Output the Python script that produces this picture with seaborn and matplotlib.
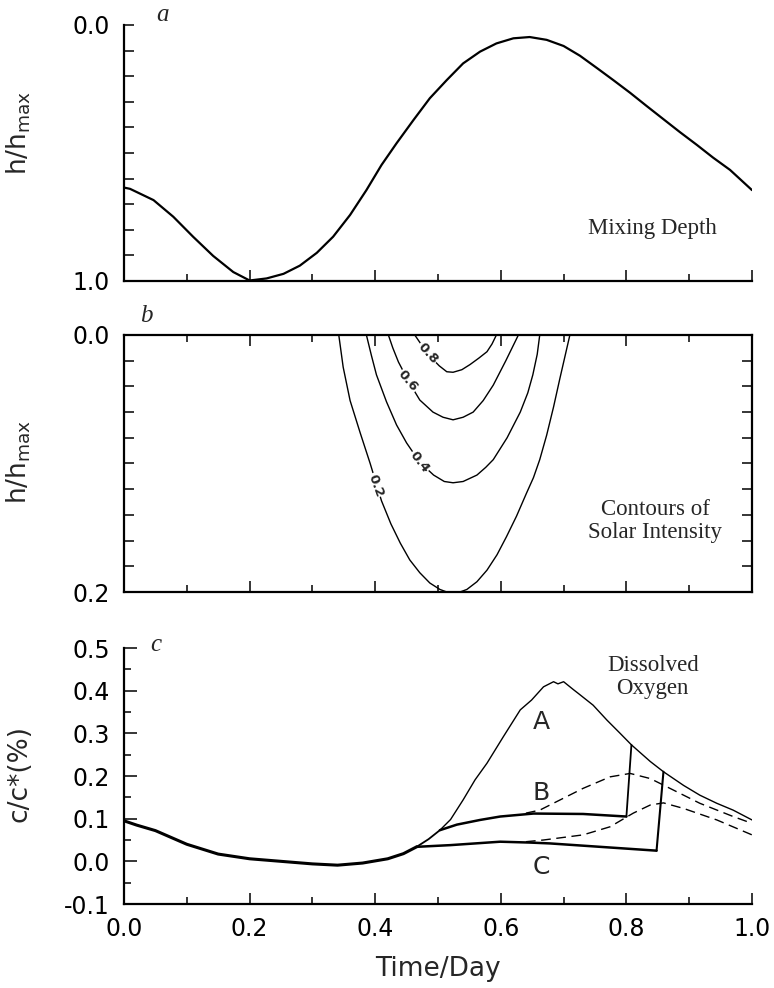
import numpy as np
import pandas as pd
import matplotlib
matplotlib.use("Agg")
import matplotlib.pyplot as plt
from matplotlib.ticker import MultipleLocator, FixedLocator
import seaborn as sns

# ---------------- data ----------------
# Panel a: mixing depth (h/hmax) vs time
mix_t = [0.0, 0.0096, 0.047, 0.0785, 0.110, 0.142, 0.174, 0.2, 0.227, 0.254, 0.280,
         0.307, 0.333, 0.36, 0.386, 0.410, 0.434, 0.461, 0.487, 0.514, 0.540, 0.567,
         0.593, 0.62, 0.646, 0.673, 0.70, 0.726, 0.753, 0.779, 0.806, 0.832, 0.859,
         0.885, 0.912, 0.938, 0.965, 1.0]
mix_h = [0.635, 0.64, 0.684, 0.749, 0.827, 0.902, 0.965, 0.998, 0.99, 0.972, 0.94,
         0.89, 0.827, 0.742, 0.645, 0.547, 0.462, 0.371, 0.286, 0.215, 0.15, 0.104,
         0.072, 0.052, 0.047, 0.058, 0.082, 0.12, 0.168, 0.215, 0.265, 0.316, 0.368,
         0.418, 0.468, 0.518, 0.566, 0.645]

# Panel b: contour lines of solar intensity (time, depth)
c02_t = [0.342, 0.349, 0.36, 0.376, 0.392, 0.41, 0.425, 0.44, 0.455, 0.471, 0.487, 0.503,
         0.514, 0.524, 0.535, 0.546, 0.562, 0.578, 0.594, 0.609, 0.625, 0.641, 0.652,
         0.662, 0.673, 0.684, 0.694, 0.71]
c02_d = [0.0, 0.025, 0.051, 0.076, 0.10, 0.129, 0.147, 0.162, 0.175, 0.185, 0.193, 0.198,
         0.2, 0.2, 0.2, 0.198, 0.192, 0.183, 0.171, 0.157, 0.141, 0.123, 0.111,
         0.097, 0.078, 0.056, 0.034, 0.0]
c04_t = [0.386, 0.394, 0.402, 0.418, 0.434, 0.45, 0.471, 0.493, 0.51, 0.524, 0.54, 0.562,
         0.576, 0.588, 0.61, 0.631, 0.643, 0.651, 0.658, 0.662]
c04_d = [0.0, 0.016, 0.031, 0.052, 0.070, 0.084, 0.099, 0.109, 0.114, 0.115, 0.114, 0.109,
         0.103, 0.097, 0.08, 0.06, 0.045, 0.031, 0.015, 0.0]
c06_t = [0.421, 0.428, 0.437, 0.453, 0.471, 0.492, 0.508, 0.524, 0.54, 0.556, 0.572, 0.588,
         0.608, 0.628]
c06_d = [0.0, 0.01, 0.021, 0.036, 0.0506, 0.06, 0.064, 0.066, 0.064, 0.06, 0.051, 0.039,
         0.02, 0.0]
c08_t = [0.463, 0.477, 0.49, 0.502, 0.514, 0.524, 0.538, 0.551, 0.565, 0.578, 0.586, 0.593]
c08_d = [0.0, 0.01, 0.018, 0.024, 0.0286, 0.029, 0.027, 0.023, 0.018, 0.013, 0.007, 0.0]
contour_levels = ["0.2", "0.4", "0.6", "0.8"]
label_t = [0.40, 0.471, 0.452, 0.484]
label_d = [0.117, 0.0986, 0.036, 0.014]
label_rot = [-70, -52, -50, -48]

# Panel c: dissolved oxygen
common_t = [0.0, 0.02, 0.05, 0.1, 0.15, 0.2, 0.25, 0.3, 0.34, 0.38, 0.42, 0.445, 0.466]
common_c = [0.095, 0.085, 0.072, 0.04, 0.017, 0.006, 0.0, -0.006, -0.009, -0.004, 0.006, 0.018, 0.034]
ab_t = [0.466, 0.485, 0.503]
ab_c = [0.034, 0.052, 0.073]
a_t = [0.503, 0.52, 0.54, 0.559, 0.578, 0.604, 0.631, 0.649, 0.668, 0.684, 0.691, 0.70,
       0.716, 0.723, 0.747, 0.769, 0.79, 0.808, 0.838, 0.859, 0.891, 0.917, 0.944, 0.97, 1.0]
a_c = [0.073, 0.098, 0.144, 0.191, 0.23, 0.292, 0.355, 0.378, 0.409, 0.421, 0.416, 0.421,
       0.402, 0.394, 0.366, 0.331, 0.30, 0.273, 0.234, 0.21, 0.178, 0.155, 0.136, 0.12, 0.097]
b_t = [0.503, 0.53, 0.567, 0.599, 0.652, 0.731, 0.80]
b_c = [0.073, 0.086, 0.097, 0.105, 0.112, 0.111, 0.105]
b_jump_t = [0.80, 0.808]
b_jump_c = [0.105, 0.273]
c_t = [0.466, 0.52, 0.599, 0.646, 0.678, 0.758, 0.848]
c_c = [0.034, 0.038, 0.046, 0.044, 0.042, 0.034, 0.025]
c_jump_t = [0.848, 0.859]
c_jump_c = [0.025, 0.21]
bd_t = [0.64, 0.662, 0.731, 0.774, 0.806, 0.838, 0.864, 0.917, 0.97, 1.0]
bd_c = [0.113, 0.12, 0.171, 0.198, 0.206, 0.194, 0.175, 0.136, 0.105, 0.089]
cd_t = [0.64, 0.668, 0.731, 0.774, 0.811, 0.838, 0.859, 0.891, 0.944, 1.0]
cd_c = [0.046, 0.05, 0.062, 0.081, 0.113, 0.132, 0.137, 0.124, 0.097, 0.062]
case_labels = ["A", "B", "C"]
case_t = [0.665, 0.665, 0.665]
case_c = [0.327, 0.159, -0.0125]

# ---------------- style ----------------
sns.set_style("white")
plt.rcParams["font.family"] = ["DejaVu Sans"]
plt.rcParams["mathtext.default"] = "regular"
SERIF = ["Liberation Serif", "DejaVu Serif"]
TICKFS = 17
LABFS = 19

fig = plt.figure(figsize=(7.74, 9.88), dpi=100)
L, W = 124 / 774, 628 / 774
ax_a = fig.add_axes([L, 1 - 281 / 988, W, 256 / 988])
ax_b = fig.add_axes([L, 1 - 592 / 988, W, 257 / 988])
ax_c = fig.add_axes([L, 1 - 904 / 988, W, 256 / 988])

def line(ax, t, v, lw=1.5, dashes=None):
    df = pd.DataFrame({"t": t, "v": v})
    sns.lineplot(data=df, x="t", y="v", ax=ax, color="black", linewidth=lw,
                 sort=False, estimator=None)
    ln = ax.get_lines()[-1]
    if dashes is not None:
        ln.set_dashes(dashes)
    return ln

def style_axes(ax, box=False):
    for s in ["left", "bottom", "top", "right"]:
        ax.spines[s].set_linewidth(1.6)
        ax.spines[s].set_color("black")
    for s in ["top", "right"]:
        ax.spines[s].set_visible(box)
    ax.set_xlim(0, 1)
    ax.xaxis.set_major_locator(MultipleLocator(0.2))
    ax.xaxis.set_minor_locator(MultipleLocator(0.1))
    ax.tick_params(axis="both", which="both", direction="in", colors="black",
                   width=1.1, labelsize=TICKFS, pad=10, left=True, bottom=True)
    ax.tick_params(axis="x", which="major", length=8)
    ax.tick_params(axis="x", which="minor", length=5)
    ax.set_xlabel("")
    ax.set_ylabel("")

# ---------------- panel a ----------------
line(ax_a, mix_t, mix_h, lw=1.6)
style_axes(ax_a)
ax_a.set_ylim(1.0, 0.0)
ax_a.yaxis.set_major_locator(FixedLocator([0.0, 1.0]))
ax_a.set_yticklabels(["0.0", "1.0"])
ax_a.yaxis.set_minor_locator(FixedLocator(np.arange(1, 10) / 10))
ax_a.tick_params(axis="y", which="both", length=7)
ax_a.tick_params(axis="x", labelbottom=False)
ax_a.set_ylabel(r"h/h$_{max}$", fontsize=LABFS)
ax_a.yaxis.set_label_coords(-0.145, 0.58)
ax_a.text(0.062, 1.04, "a", transform=ax_a.transAxes, fontsize=18,
          family=SERIF, style="italic", ha="center", va="center")
ax_a.text(0.841, 0.207, "Mixing Depth", transform=ax_a.transAxes, fontsize=16.5,
          family=SERIF, ha="center", va="center")

# ---------------- panel b ----------------
for t, d in [(c02_t, c02_d), (c04_t, c04_d), (c06_t, c06_d), (c08_t, c08_d)]:
    line(ax_b, t, d, lw=1.0)
style_axes(ax_b, box=True)
ax_b.set_ylim(0.2, 0.0)
ax_b.yaxis.set_major_locator(FixedLocator([0.0, 0.2]))
ax_b.set_yticklabels(["0.0", "0.2"])
ax_b.yaxis.set_minor_locator(FixedLocator(np.arange(1, 10) / 50))
ax_b.tick_params(axis="y", which="both", length=7, right=True)
ax_b.tick_params(axis="x", which="both", top=True, labelbottom=False)
ax_b.tick_params(axis="x", which="minor", top=True, length=5)
for lab, t, d, r in zip(contour_levels, label_t, label_d, label_rot):
    ax_b.text(t, d, lab, fontsize=9.5, fontweight="bold", rotation=r,
              ha="center", va="center", rotation_mode="anchor", zorder=5,
              bbox=dict(facecolor="white", edgecolor="none", pad=0.5))
ax_b.set_ylabel(r"h/h$_{max}$", fontsize=LABFS)
ax_b.yaxis.set_label_coords(-0.145, 0.506)
ax_b.text(0.035, 1.074, "b", transform=ax_b.transAxes, fontsize=18,
          family=SERIF, style="italic", ha="center", va="center")
ax_b.text(0.846, 0.276, "Contours of\nSolar Intensity", transform=ax_b.transAxes,
          fontsize=16.5, family=SERIF, ha="center", va="center", linespacing=1.15)

# ---------------- panel c ----------------
line(ax_c, common_t, common_c, lw=2.2)
line(ax_c, ab_t, ab_c, lw=1.3)
line(ax_c, a_t, a_c, lw=1.0)
line(ax_c, b_t, b_c, lw=1.8)
line(ax_c, b_jump_t, b_jump_c, lw=1.3)
line(ax_c, c_t, c_c, lw=1.8)
line(ax_c, c_jump_t, c_jump_c, lw=1.5)
line(ax_c, bd_t, bd_c, lw=1.0, dashes=(7, 4))
line(ax_c, cd_t, cd_c, lw=1.0, dashes=(7, 4))
style_axes(ax_c)
ax_c.set_ylim(-0.1, 0.5)
ax_c.yaxis.set_minor_locator(MultipleLocator(0.05))
ax_c.set_yticks(np.round(np.arange(-0.1, 0.51, 0.1), 1))
ax_c.set_yticklabels(["-0.1", "0.0", "0.1", "0.2", "0.3", "0.4", "0.5"])
ax_c.set_xticks(np.round(np.arange(0, 1.01, 0.2), 1))
ax_c.set_xticklabels(["0.0", "0.2", "0.4", "0.6", "0.8", "1.0"])
ax_c.tick_params(axis="y", which="major", length=9)
ax_c.tick_params(axis="y", which="minor", length=5)
ax_c.tick_params(axis="x", pad=9)
for lab, t, v in zip(case_labels, case_t, case_c):
    ax_c.text(t, v, lab, fontsize=18, ha="center", va="center")
ax_c.set_ylabel("c/c*(%)", fontsize=LABFS)
ax_c.yaxis.set_label_coords(-0.145, 0.508)
ax_c.set_xlabel("Time/Day", fontsize=LABFS)
ax_c.xaxis.set_label_coords(0.5, -0.205)
ax_c.text(0.051, 1.012, "c", transform=ax_c.transAxes, fontsize=18,
          family=SERIF, style="italic", ha="center", va="center")
ax_c.text(0.842, 0.887, "Dissolved\nOxygen", transform=ax_c.transAxes,
          fontsize=16.5, family=SERIF, ha="center", va="center", linespacing=1.15)

fig.savefig("out.png", dpi=100)
